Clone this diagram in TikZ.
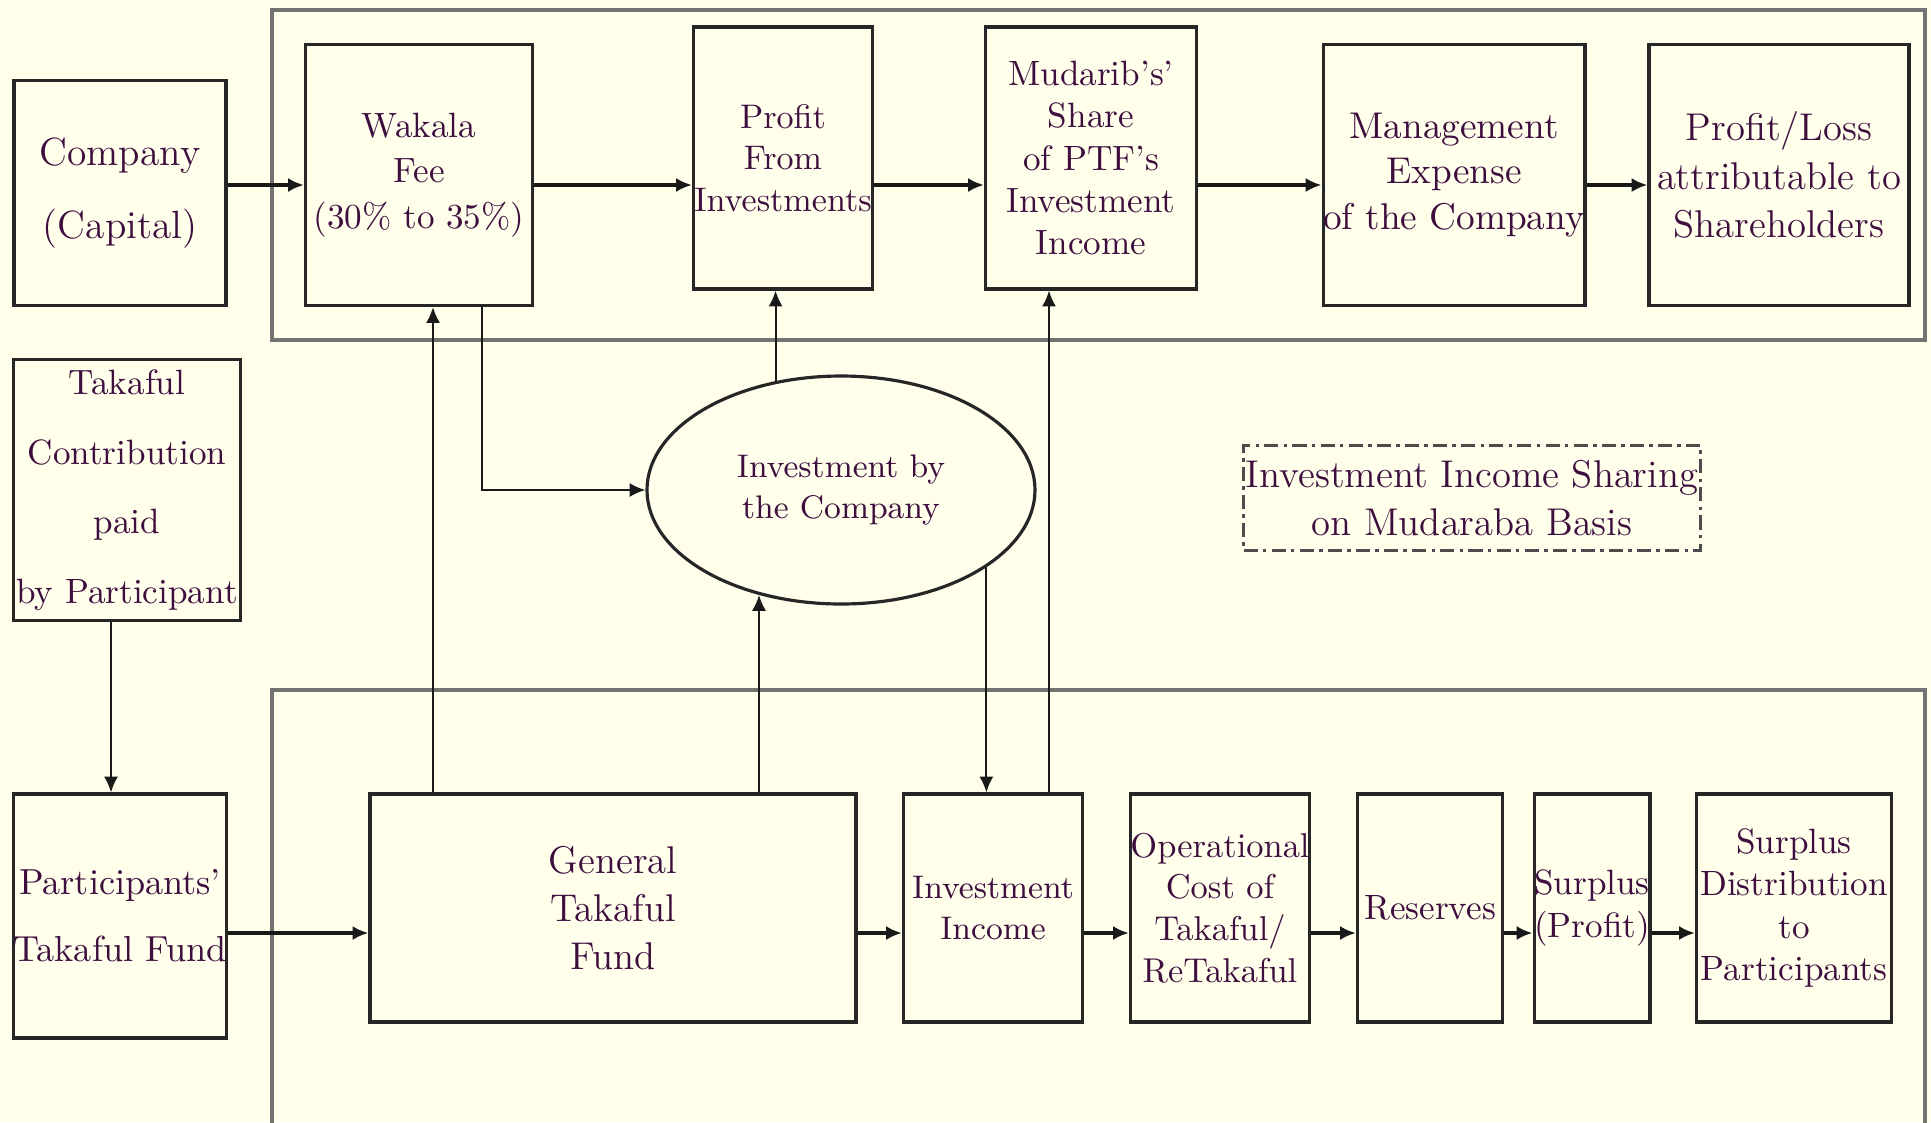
\documentclass[tikz,border=0pt]{standalone}
\usetikzlibrary{arrows.meta,shapes.geometric}
\definecolor{paper}{RGB}{255,255,236}
\definecolor{ink}{RGB}{62,14,62}

\begin{document}
\begin{tikzpicture}[>={Latex[length=4.5pt,width=4pt]}]
        \tikzstyle{every node}=[text=ink, align=center, inner sep=0pt]
        \tikzstyle{box}=[draw=black!85, line width=0.9pt, fill=paper]
        \tikzstyle{frame}=[draw=black!55, line width=1.3pt]
        \tikzstyle{flow}=[->, draw=black!90, line width=0.9pt]
        \tikzstyle{link}=[->, draw=black!90, line width=0.6pt]
        \tikzstyle{big}=[font=\fontsize{11}{13.7}\selectfont]
        \tikzstyle{mid}=[font=\fontsize{10}{12}\selectfont]
        \tikzstyle{small}=[font=\fontsize{9.3}{11.6}\selectfont]

        \fill[paper] (0,0) rectangle (19.31,-11.22);
        \useasboundingbox (0,0) rectangle (19.31,-11.22);

% Company side on top, participants' side below, joined through the investment.

        \draw[frame] (2.72,-0.10) rectangle (19.25,-3.40);
        \draw[frame] (2.72,-11.4) |- (19.25,-6.90) -- (19.25,-11.4);

        \node[box, minimum width=2.12cm, minimum height=2.25cm, font=\fontsize{11.2}{13.7}\selectfont] (company) at (1.20,-1.93) {Company\\[7pt](Capital)};
        \node[box, minimum width=2.27cm, minimum height=2.61cm, font=\fontsize{10}{13}\selectfont] (wakala) at (4.19,-1.75) {Wakala\\Fee\\(30\% to 35\%)};
        \node[box, minimum width=1.79cm, minimum height=2.62cm, font=\fontsize{9.7}{11.8}\selectfont] (profit) at (7.83,-1.58) {Profit\\From\\Investments};
        \node[box, mid, minimum width=2.11cm, minimum height=2.62cm] (mudarib) at (10.91,-1.58) {Mudarib's'\\Share\\of PTF's\\Investment\\Income};
        \node[box, minimum width=2.59cm, minimum height=2.61cm, font=\fontsize{10.6}{13}\selectfont] (mgmt) at (14.54,-1.75) {Management\\Expense\\of the Company};
        \node[box, big, minimum width=2.60cm, minimum height=2.61cm] (share) at (17.79,-1.75) {Profit/Loss\\attributable to\\Shareholders};

        \node[box, minimum width=2.27cm, minimum height=2.61cm, font=\fontsize{10}{13}\selectfont] (contrib) at (1.27,-4.90) {Takaful\\[6.8pt]Contribution\\[6.8pt]paid\\[6.8pt]by Participant};
        \node[ellipse, draw=black!85, line width=0.9pt, small, minimum width=3.88cm, minimum height=2.28cm] (invest) at (8.41,-4.90) {Investment by\\the Company};
        \node[draw=black!70, line width=0.8pt, dash pattern=on 4pt off 1.5pt on 1pt off 1.5pt, big, minimum width=4.57cm, minimum height=1.05cm] (mudaraba) at (14.72,-4.98) {Investment Income Sharing\\on Mudaraba Basis};

        \node[box, minimum width=2.12cm, minimum height=2.44cm, font=\fontsize{10.3}{13}\selectfont] (ptf) at (1.20,-9.16) {Participants'\\[6pt]Takaful Fund};
        \node[box, big, minimum width=4.86cm, minimum height=2.28cm] (gtf) at (6.13,-9.08) {General\\Takaful\\Fund};
        \node[box, small, minimum width=1.79cm, minimum height=2.28cm] (income) at (9.93,-9.08) {Investment\\Income};
        \node[box, minimum width=1.79cm, minimum height=2.28cm, font=\fontsize{9.8}{11.9}\selectfont] (opcost) at (12.20,-9.08) {Operational\\Cost of\\Takaful/\\ReTakaful};
        \node[box, mid, minimum width=1.45cm, minimum height=2.28cm] (reserves) at (14.30,-9.08) {Reserves};
        \node[box, mid, minimum width=1.13cm, minimum height=2.28cm] (surplus) at (15.92,-9.08) {Surplus\\(Profit)};
        \node[box, mid, minimum width=1.95cm, minimum height=2.28cm] (distrib) at (17.94,-9.08) {Surplus\\Distribution\\to\\Participants};

        \coordinate (toprow) at (0,-1.85);
        \coordinate (botrow) at (0,-9.33);
        \coordinate (paidcol) at (1.11,0);
        \coordinate (feecol) at (4.33,0);
        \coordinate (downcol) at (4.82,0);
        \coordinate (sharecol) at (10.49,0);

        \draw[flow] (company.east |- toprow) -- (wakala.west |- toprow);
        \draw[flow] (wakala.east |- toprow) -- (profit.west |- toprow);
        \draw[flow] (profit.east |- toprow) -- (mudarib.west |- toprow);
        \draw[flow] (mudarib.east |- toprow) -- (mgmt.west |- toprow);
        \draw[flow] (mgmt.east |- toprow) -- (share.west |- toprow);

        \draw[flow] (ptf.east |- botrow) -- (gtf.west |- botrow);
        \draw[flow] (gtf.east |- botrow) -- (income.west |- botrow);
        \draw[flow] (income.east |- botrow) -- (opcost.west |- botrow);
        \draw[flow] (opcost.east |- botrow) -- (reserves.west |- botrow);
        \draw[flow] (reserves.east |- botrow) -- (surplus.west |- botrow);
        \draw[flow] (surplus.east |- botrow) -- (distrib.west |- botrow);

        \draw[link] (contrib.south -| paidcol) -- (ptf.north -| paidcol);
        \draw[link] (gtf.north -| feecol) -- (wakala.south -| feecol);
        \draw[link] (wakala.south -| downcol) |- (invest.west);
        \draw[link] (invest.121) -- (profit.south -| invest.121);
        \draw[link] (gtf.north -| invest.232) -- (invest.232);
        \draw[link] (invest.-28) -- (income.north -| invest.-28);
        \draw[link] (income.north -| sharecol) -- (mudarib.south -| sharecol);

    \end{tikzpicture}
\end{document}
